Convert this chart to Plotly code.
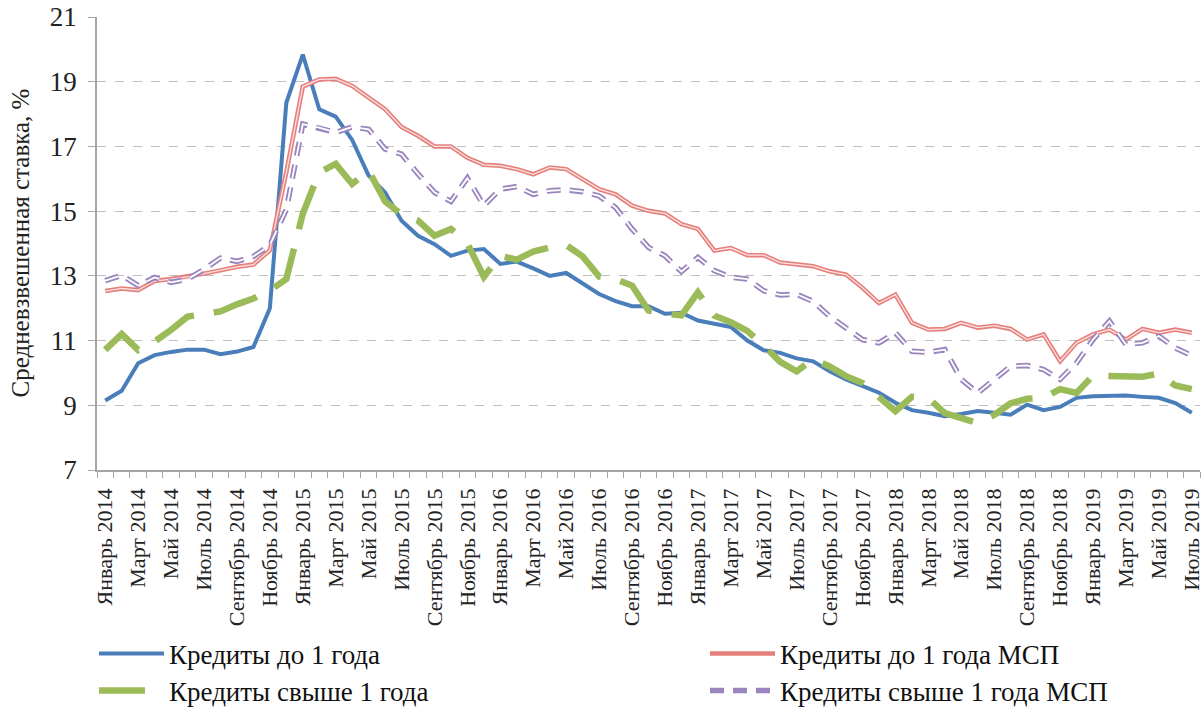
import plotly.graph_objects as go

month_names = ["Январь", "Февраль", "Март", "Апрель", "Май", "Июнь",
               "Июль", "Август", "Сентябрь", "Октябрь", "Ноябрь", "Декабрь"]
years = [2014, 2015, 2016, 2017, 2018, 2019]
months = [f"{m} {y}" for y in years for m in month_names][:67]

credits_short = [9.15, 9.45, 10.3, 10.55, 10.65, 10.72, 10.72, 10.58, 10.66, 10.8, 12.0, 18.35,
                 19.84, 18.15, 17.92, 17.2, 16.1, 15.58, 14.7, 14.24, 13.98, 13.62, 13.78, 13.83,
                 13.37, 13.44, 13.23, 13.0, 13.09, 12.75, 12.44, 12.22, 12.06, 12.06, 11.83, 11.86,
                 11.62, 11.52, 11.42, 11.0, 10.7, 10.62, 10.45, 10.36, 10.05, 9.8, 9.6, 9.39,
                 9.08, 8.85, 8.77, 8.66, 8.73, 8.82, 8.77, 8.71, 9.02, 8.85, 8.95, 9.23,
                 9.28, 9.3, 9.3, 9.26, 9.23, 9.07, 8.77]

credits_short_sme = [12.53, 12.61, 12.56, 12.84, 12.9, 12.97, 13.07, 13.17, 13.28, 13.35, 13.79, 16.2,
                     18.85, 19.07, 19.09, 18.87, 18.5, 18.15, 17.6, 17.33, 17.0, 17.0, 16.65, 16.43,
                     16.4, 16.3, 16.14, 16.35, 16.3, 15.99, 15.68, 15.52, 15.17, 15.01, 14.93, 14.6,
                     14.45, 13.78, 13.86, 13.64, 13.64, 13.41, 13.35, 13.3, 13.14, 13.04, 12.63, 12.16,
                     12.42, 11.55, 11.34, 11.36, 11.55, 11.4, 11.46, 11.36, 11.03, 11.19, 10.36, 10.93,
                     11.19, 11.34, 11.03, 11.36, 11.24, 11.34, 11.24]

credits_long = [10.71, 11.2, 10.71, 10.97, 11.33, 11.74, 11.82, 11.9, 12.12, 12.3, 12.55, 12.9,
                14.92, 16.2, 16.46, 15.84, 16.25, 15.3, 14.9, 14.71, 14.24, 14.45, 14.0, 12.97,
                13.62, 13.5, 13.75, 13.88, 13.95, 13.6, 12.98, 12.9, 12.7, 11.93, 11.83, 11.78,
                12.49, 11.77, 11.57, 11.3, 10.85, 10.34, 10.05, 10.43, 10.2, 9.9, 9.69, 9.28,
                8.82, 9.26, 9.22, 8.76, 8.6, 8.45, 8.7, 9.06, 9.2, 9.23, 9.5, 9.38,
                9.92, 9.9, 9.85, 9.88, 9.98, 9.61, 9.5]

credits_long_sme = [12.85, 13.02, 12.7, 12.95, 12.8, 12.9, 13.2, 13.55, 13.45, 13.6, 13.95, 15.05,
                    17.69, 17.58, 17.43, 17.6, 17.53, 16.92, 16.76, 16.15, 15.58, 15.3, 16.02, 15.17,
                    15.68, 15.76, 15.52, 15.63, 15.66, 15.6, 15.47, 15.11, 14.45, 13.88, 13.62, 13.13,
                    13.57, 13.16, 12.96, 12.9, 12.54, 12.41, 12.43, 12.21, 11.75, 11.39, 11.03, 10.93,
                    11.24, 10.67, 10.64, 10.72, 9.8, 9.38, 9.8, 10.21, 10.23, 10.1, 9.8, 10.31,
                    11.03, 11.6, 10.88, 10.93, 11.14, 10.77, 10.54]

x = list(range(len(months)))
tick_idx = x[::2]
tick_text = [months[i] for i in tick_idx]

SERIF = "Liberation Serif, Times New Roman, serif"
W, H = 1203, 713

fig = go.Figure()
fig.add_trace(go.Scatter(x=x, y=credits_short, mode="lines", name="Кредиты до 1 года",
                         legend="legend",
                         line=dict(color="#4A7EBB", width=4)))
fig.add_trace(go.Scatter(x=x, y=credits_long, mode="lines", name="Кредиты свыше 1 года",
                         legend="legend3",
                         line=dict(color="#9BBB59", width=6.5, dash="46px,20px")))
fig.add_trace(go.Scatter(x=x, y=credits_short_sme, mode="lines", name="Кредиты до 1 года МСП",
                         legend="legend2",
                         line=dict(color="#E57F7C", width=4.5)))
fig.add_trace(go.Scatter(x=x, y=credits_short_sme, mode="lines", showlegend=False,
                         legend="legend2", hoverinfo="skip",
                         line=dict(color="#FBE3E2", width=1.3)))
fig.add_trace(go.Scatter(x=x, y=credits_long_sme, mode="lines", name="Кредиты свыше 1 года МСП",
                         legend="legend4",
                         line=dict(color="#9A85BE", width=5.5, dash="14px,9px")))
fig.add_trace(go.Scatter(x=x, y=credits_long_sme, mode="lines", showlegend=False,
                         legend="legend4", hoverinfo="skip",
                         line=dict(color="#FFFFFF", width=1.8, dash="14px,9px")))


def leg(xpx, ypx):
    return dict(orientation="v", xref="container", yref="container",
                x=xpx / W, y=1 - ypx / H, xanchor="left", yanchor="middle",
                font=dict(family=SERIF, size=27, color="#111111"),
                itemwidth=65, bgcolor="rgba(0,0,0,0)", borderwidth=0)


fig.update_layout(
    width=W, height=H,
    margin=dict(l=97, r=3, t=17, b=243, autoexpand=False),
    paper_bgcolor="white", plot_bgcolor="white",
    font=dict(family=SERIF, color="#222222"),
    showlegend=True,
    legend=leg(94, 654),
    legend2=leg(705, 654),
    legend3=leg(94, 691),
    legend4=leg(705, 691),
    annotations=[dict(text="Средневзвешенная ставка, %", textangle=-90,
                      xref="paper", yref="paper", x=-0.0698, y=0.5,
                      xanchor="center", yanchor="middle", showarrow=False,
                      font=dict(family=SERIF, size=25, color="#222222"))],
)

fig.update_xaxes(
    range=[-0.5, len(months) - 0.5],
    tickmode="array", tickvals=tick_idx, ticktext=tick_text, tickangle=-90,
    ticks="", showgrid=False, zeroline=False, automargin=False,
    showline=True, linecolor="#A6A6A6", linewidth=1.5,
    ticklabelstandoff=8, ticklabeloverflow="allow",
    tickfont=dict(family=SERIF, size=22, color="#222222"),
    minor=dict(ticks="outside", tick0=-0.5, dtick=1, ticklen=6, tickcolor="#A6A6A6",
               tickwidth=1, showgrid=False),
)
fig.update_yaxes(
    range=[7, 21], dtick=2, tick0=7, automargin=False,
    showgrid=True, gridcolor="#BFBFBF", griddash="dash", gridwidth=1,
    zeroline=False, showline=True, linecolor="#A6A6A6", linewidth=1.5,
    ticks="outside", ticklen=7, tickcolor="#A6A6A6", ticklabelstandoff=6,
    ticklabeloverflow="allow",
    tickfont=dict(family=SERIF, size=27, color="#222222"),
)

# remove the browser's default 8px body margin so the figure fills the window exactly
fig.write_html("out.html", config={"displayModeBar": False},
               post_script="document.body.style.margin='0px';")
